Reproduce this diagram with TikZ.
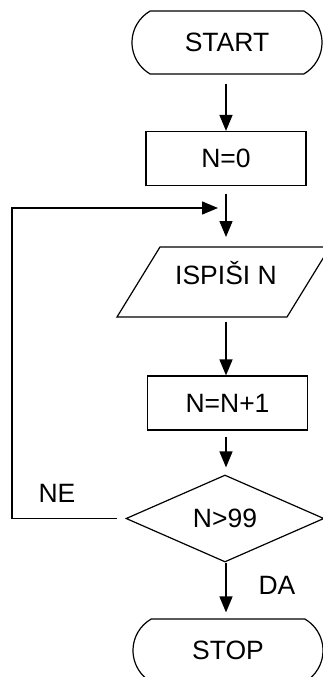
\documentclass[tikz,border=0pt]{standalone}
\usepackage{fontspec}
\setmainfont{Liberation Sans}
\usetikzlibrary{arrows.meta, positioning, shapes.geometric, shapes.misc, calc}
\tikzset{
  flowArrow/.style={-{Triangle[length=16pt, width=13pt]}, line width=1.5pt},
  outline/.style={draw, line width=1.2pt},
  boxTerm/.style={rounded rectangle, rounded rectangle arc length=120, outline,
                  minimum width=190pt, minimum height=63pt, inner sep=0pt},
  boxProc/.style={rectangle, outline, minimum width=160pt,
                  minimum height=54pt, inner sep=0pt},
  boxTest/.style={diamond, outline, minimum width=198pt,
                  minimum height=87pt, inner sep=0pt},
}

\begin{document}
\begin{tikzpicture}[x=1pt, y=-1pt, font=\fontsize{26.5}{31}\selectfont]
    \useasboundingbox (0,0) rectangle (323,677);

    % blokovi
    \node[boxTerm] (start) at (227,42.5) {START};
    \node[boxProc] (init) at (226,158.5) {N=0};
    \node (print) at (226,273) {ISPIŠI N};
    \draw[outline] (117,317) -- (160,247) -- (330,247) -- (287,317) -- cycle;
    \coordinate (printTop) at (226,247);
    \coordinate (printBot) at (226,317);
    \node[boxProc] (incr) at (227.5,403) {N=N+1};
    \node[boxTest] (test) at (225,518.5) {N>99};
    \node[boxTerm] (stop) at (228,650.5) {STOP};

    % tok
    \draw[flowArrow, shorten <=9pt] (init.north |- start.south) -- (init.north);
    \draw[flowArrow, shorten <=8pt, shorten >=10pt] (init.south) -- (printTop);
    \draw[flowArrow, shorten <=5pt] (printBot) -- (init.south |- incr.north);
    \draw[flowArrow, shorten <=6pt, shorten >=7pt] (init.south |- incr.south) -- (init.south |- test.north);
    \draw[flowArrow, shorten >=6pt] (init.south |- test.south) -- (init.south |- stop.north);

    % povratna petlja
    \coordinate (loopCorner) at (12,208);
    \draw[flowArrow, shorten <=8pt, shorten >=8pt] (test.west) -| (loopCorner) -- (init.south |- loopCorner);

    \node (no) at (57,493) {NE};
    \node (yes) at (277,585) {DA};
\end{tikzpicture}
\end{document}
